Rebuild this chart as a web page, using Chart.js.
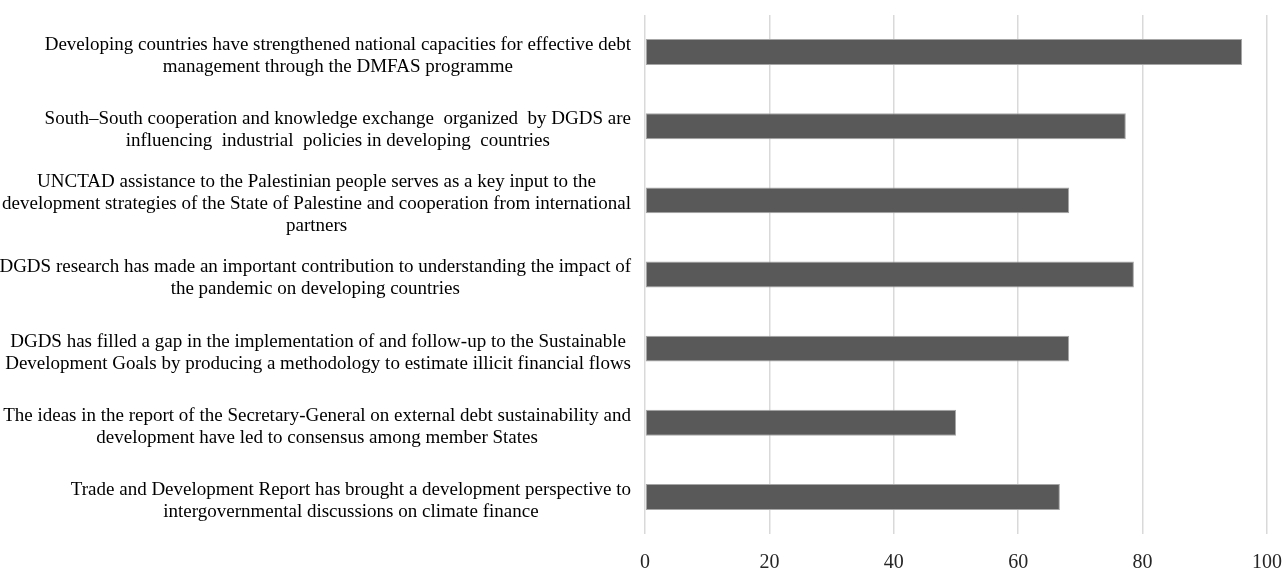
<!DOCTYPE html>
<html>
<head>
<meta charset="utf-8">
<script src="https://cdn.jsdelivr.net/npm/chart.js@4"></script>
<style>
    html, body { margin: 0; padding: 0; background: #fff; }
    canvas { display: block; }
</style>
</head>
<body>
<canvas id="chart" width="1282" height="570"></canvas>
<script>
// each label is a list of lines, as broken in the original
const CATEGORIES = [
    ['Developing countries have strengthened national capacities for effective debt',
     'management through the DMFAS programme'],
    ['South\u2013South cooperation and knowledge exchange  organized  by DGDS are',
     'influencing  industrial  policies in developing  countries'],
    ['UNCTAD assistance to the Palestinian people serves as a key input to the',
     'development strategies of the State of Palestine and cooperation from international',
     'partners'],
    ['DGDS research has made an important contribution to understanding the impact of',
     'the pandemic on developing countries'],
    ['DGDS has filled a gap in the implementation of and follow-up to the Sustainable',
     'Development Goals by producing a methodology to estimate illicit financial flows'],
    ['The ideas in the report of the Secretary-General on external debt sustainability and',
     'development have led to consensus among member States'],
    ['Trade and Development Report has brought a development perspective to',
     'intergovernmental discussions on climate finance']
];

const VALUES = [96, 77.3, 68.2, 78.6, 68.2, 50, 66.7];

const X_MIN = 0;
const X_MAX = 100;
const X_STEP = 20;

const FONT = '"Liberation Serif", "Times New Roman", serif';
const LABEL_SIZE = 19;
const LINE_H = 22;

// Excel style labels: block is right aligned, lines centred inside it
const blockLabels = {
    id: 'blockLabels',
    afterDraw(chart) {
        const scale = chart.scales.y;
        const ctx = chart.ctx;
        const right = chart.chartArea.left - 14;
        ctx.save();
        ctx.font = LABEL_SIZE + 'px ' + FONT;
        ctx.fillStyle = '#000';
        ctx.textAlign = 'center';
        ctx.textBaseline = 'middle';
        scale.ticks.forEach((t, i) => {
            const lines = CATEGORIES[i];
            const w = Math.max(...lines.map(l => ctx.measureText(l).width));
            const cx = right - w / 2;
            const y0 = scale.getPixelForTick(i) + 4 - (lines.length - 1) * LINE_H / 2;
            lines.forEach((l, j) => ctx.fillText(l, cx, y0 + j * LINE_H));
        });
        ctx.restore();
    }
};

const ctx = document.getElementById('chart').getContext('2d');

new Chart(ctx, {
    type: 'bar',
    data: {
        labels: CATEGORIES,
        datasets: [{
            data: VALUES,
            backgroundColor: '#595959',
            borderColor: '#a6a6a6',
            borderWidth: 1,
            borderSkipped: false,
            barPercentage: 0.35,
            categoryPercentage: 1
        }]
    },
    options: {
        indexAxis: 'y',
        responsive: false,
        animation: false,
        devicePixelRatio: 1,
        layout: {
            padding: { left: 0, right: 0, top: 15, bottom: 0 }
        },
        plugins: {
            legend: { display: false },
            tooltip: { enabled: false }
        },
        scales: {
            x: {
                min: X_MIN,
                max: X_MAX,
                grid: {
                    color: '#d9d9d9',
                    lineWidth: 1.5,
                    drawTicks: false
                },
                border: { display: false },
                ticks: {
                    stepSize: X_STEP,
                    padding: 17,
                    color: '#262626',
                    font: { family: FONT, size: 20 }
                },
                afterFit: function(scale) {
                    scale.height = 36;
                    scale.paddingRight = 15;
                }
            },
            y: {
                grid: { display: false },
                border: { display: false },
                ticks: { display: false },
                afterFit: function(scale) {
                    scale.width = 645;
                }
            }
        }
    },
    plugins: [blockLabels]
});
</script>
</body>
</html>
